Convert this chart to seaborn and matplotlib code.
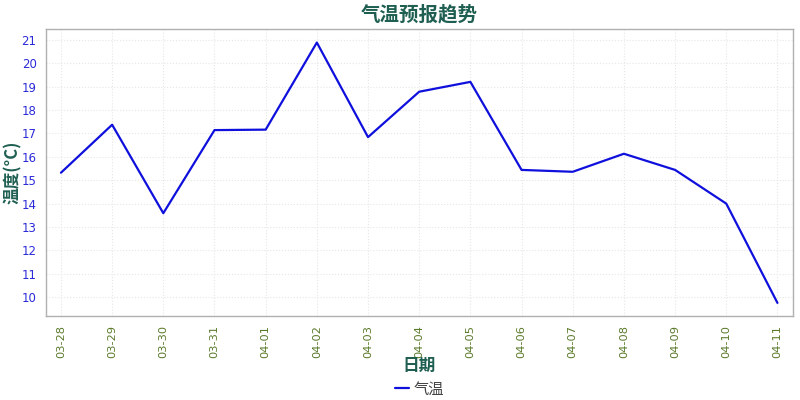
import matplotlib
matplotlib.use("Agg")
import matplotlib.pyplot as plt
import seaborn as sns
import pandas as pd

# 数据
dates = ["03-28", "03-29", "03-30", "03-31", "04-01", "04-02", "04-03", "04-04",
         "04-05", "04-06", "04-07", "04-08", "04-09", "04-10", "04-11"]
temps = [15.32, 17.37, 13.59, 17.14, 17.16, 20.88, 16.84, 18.78,
         19.20, 15.44, 15.36, 16.13, 15.44, 14.00, 9.76]

TITLE_COLOR = "#1f5f52"

sns.set_theme(style="whitegrid")
plt.rcParams['font.family'] = ['Noto Sans CJK SC', 'DejaVu Sans']

df = pd.DataFrame({"日期": dates, "气温": temps})

fig, ax = plt.subplots(figsize=(8, 4), dpi=100)
sns.lineplot(data=df, x="日期", y="气温", ax=ax, color="#1010dd",
             linewidth=1.6, label="气温", sort=False)

ax.set_xlim(-0.3, len(dates) - 1 + 0.3)
ax.set_ylim(9.2, 21.45)
ax.set_yticks(range(10, 22))

ax.grid(True, color="#e6e6e6", linestyle=":", linewidth=0.8)
for sp in ax.spines.values():
    sp.set_color("#b0b0b0")
    sp.set_linewidth(1.0)

ax.tick_params(axis="y", labelcolor="#2b2bd9", labelsize=8.5, length=3, color="#999999")
ax.tick_params(axis="x", labelcolor="#5a7a2a", labelsize=8.2, rotation=90, length=3, color="#999999")
for lab in ax.get_xticklabels() + ax.get_yticklabels():
    lab.set_family("DejaVu Sans")

ax.set_title("气温预报趋势", fontsize=14, fontweight="bold", color=TITLE_COLOR, pad=6)
ax.set_xlabel("日期", fontsize=12, fontweight="bold", color=TITLE_COLOR)
ax.set_ylabel("温度(°C)", fontsize=12, fontweight="bold", color=TITLE_COLOR)
ax.xaxis.set_label_coords(0.5, -0.142)
ax.yaxis.set_label_coords(-0.032, 0.5)

leg = ax.legend(loc="center", bbox_to_anchor=(0.5, -0.255), frameon=False,
                fontsize=11, handlelength=0.9, handletextpad=0.3)
for t in leg.get_texts():
    t.set_color("#444444")

fig.subplots_adjust(left=0.057, right=0.991, top=0.927, bottom=0.21)
fig.savefig("out.png", dpi=100, facecolor="white")
